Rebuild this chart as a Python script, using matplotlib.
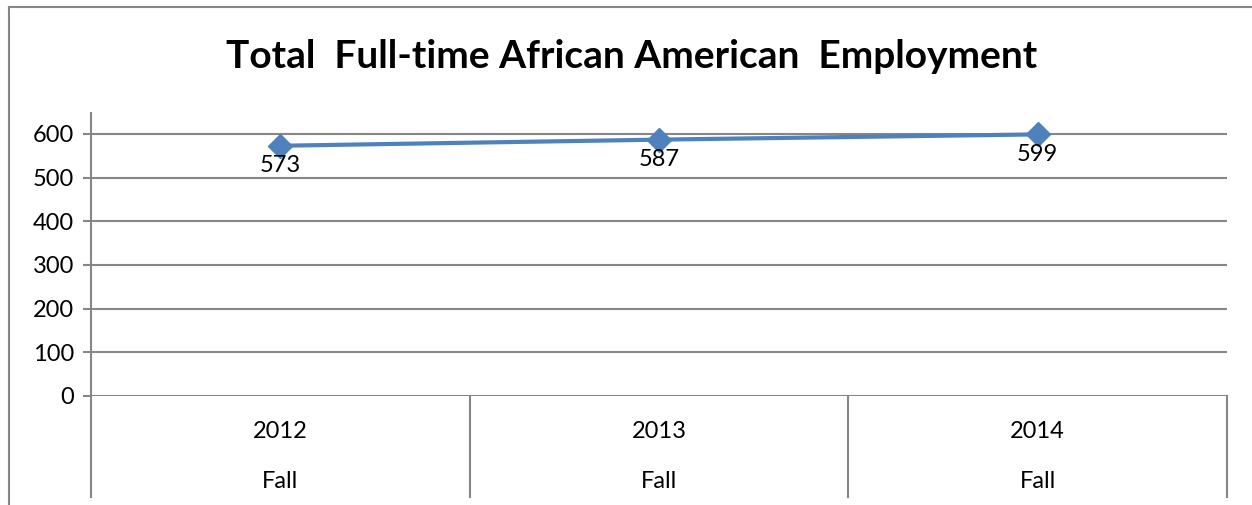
import matplotlib.pyplot as plt
from matplotlib.transforms import blended_transform_factory

years = ['2012', '2013', '2014']
season = ['Fall', 'Fall', 'Fall']
employment = [573, 587, 599]

plt.rcParams['font.family'] = ['Lato', 'DejaVu Sans']

W, H = 1252, 505
fig = plt.figure(figsize=(W / 100, H / 100), dpi=100)

# outer chart frame (left and top only visible)
fig.add_artist(plt.Line2D([9 / W, 9 / W], [0, 1 - 7 / H], color='#868686', lw=1.5))
fig.add_artist(plt.Line2D([9 / W, 1], [1 - 7 / H, 1 - 7 / H], color='#868686', lw=1.5))

ax = fig.add_axes([91 / W, 1 - 396 / H, (1227 - 91) / W, (396 - 113) / H])
grey = '#868686'

x = [i + 0.5 for i in range(len(years))]
ax.plot(x, employment, color='#4F81BD', lw=3, marker='D', markersize=12,
        markerfacecolor='#4F81BD', markeredgecolor='#4F81BD', zorder=3)
for xi, v in zip(x, employment):
    ax.annotate(str(v), (xi, v), xytext=(0, -7), textcoords='offset points',
                ha='center', va='top', fontsize=17, color='black')

ax.set_xlim(0, len(years))
ax.set_ylim(0, 648)
ax.set_yticks(range(0, 601, 100))
ax.yaxis.grid(True, color=grey, lw=1.5)
ax.set_axisbelow(True)
ax.tick_params(axis='y', length=6, width=1.5, color=grey, labelsize=17, pad=6)
ax.set_xticks([])
for s in ['top', 'right', 'bottom']:
    ax.spines[s].set_visible(False)
ax.spines['left'].set_color(grey)
ax.spines['left'].set_linewidth(1.5)

# category axis with separators and two-level labels
trans = blended_transform_factory(ax.transData, ax.transAxes)
depth = (497 - 396) / (396 - 113)
for i in range(len(years) + 1):
    ax.plot([i, i], [0, -depth], transform=trans, color=grey, lw=1.5, clip_on=False)
for xi, y, s in zip(x, years, season):
    ax.text(xi, -(432 - 396) / (396 - 113), y, transform=trans, ha='center', va='center', fontsize=17)
    ax.text(xi, -(482 - 396) / (396 - 113), s, transform=trans, ha='center', va='center', fontsize=17)

fig.text(632 / W, 1 - 56 / H, 'Total  Full-time African American  Employment',
         ha='center', va='center', fontsize=28, fontweight='bold')

fig.savefig('out.png', dpi=100)
